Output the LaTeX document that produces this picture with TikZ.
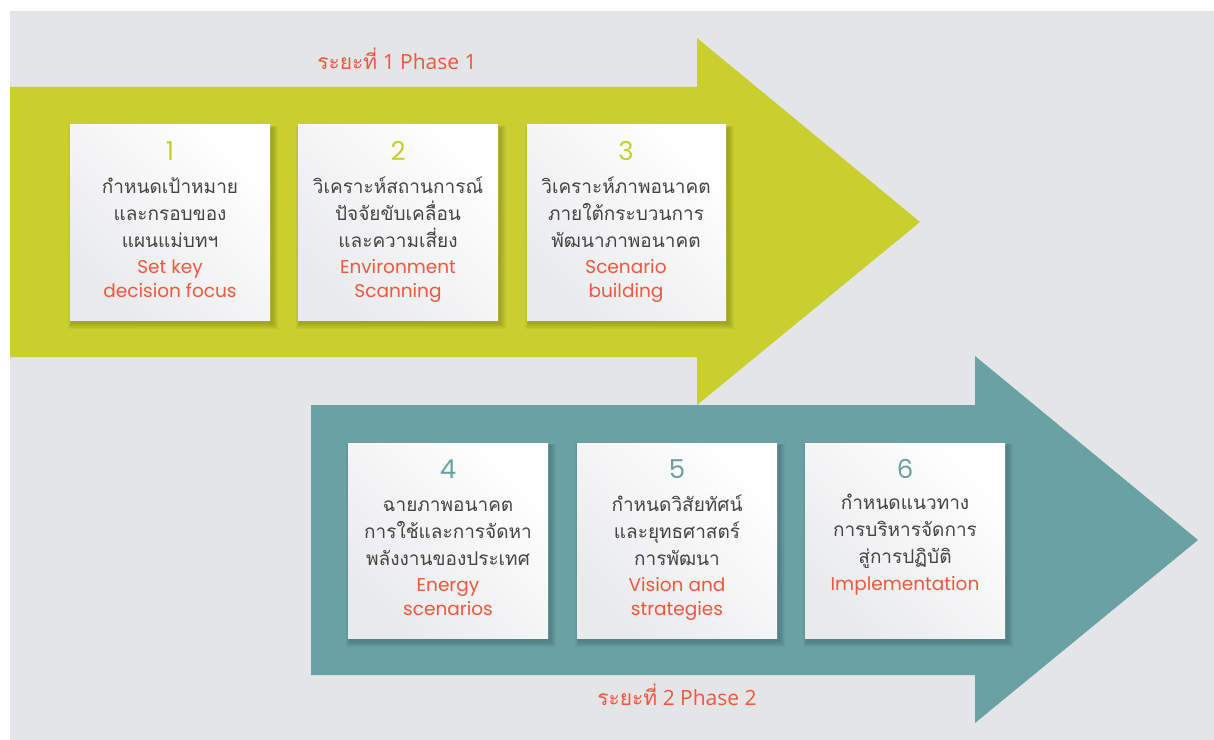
\documentclass[tikz,border=0pt]{standalone}
\usepackage{fontspec}
\setmainfont{Poppins}
\newfontfamily\thaifont[Script=Thai]{Loma}
\newfontfamily\phasefont{Open Sans}
\definecolor{bggrey}{HTML}{E4E5E7}
\definecolor{limec}{HTML}{C9CF2E}
\definecolor{tealc}{HTML}{69A1A4}
\definecolor{redc}{HTML}{F0573B}
\definecolor{textc}{HTML}{444444}
\definecolor{cardgrey}{HTML}{E9EAEC}
\tikzset{
  card/.style={rectangle, inner sep=0pt, minimum width=200bp, minimum height=195bp,
    shading=axis, top color=white, bottom color=cardgrey, shading angle=-45},
  numtop/.style={anchor=base, text=limec, font=\fontsize{26bp}{26bp}\selectfont},
  numbot/.style={anchor=base, text=tealc, font=\fontsize{26bp}{26bp}\selectfont},
  thai/.style={anchor=base, text=textc, inner sep=0pt, font=\thaifont\fontsize{19bp}{19bp}\selectfont},
  eng/.style={anchor=base, text=redc, inner sep=0pt, font=\fontsize{18.5bp}{18.5bp}\selectfont},
  phase/.style={anchor=base, text=redc, inner sep=0pt, font=\phasefont\fontsize{21bp}{21bp}\selectfont}
}
\newcommand\softshadow[4]{%
  \foreach \k in {1,...,6}{%
    \fill[black,opacity=0.03] (#1+2-0.6*\k,#2+3-0.4*\k) rectangle (#3+2+\k,#4+3+\k);}}
\begin{document}
\begin{tikzpicture}[x=1bp,y=-1bp]
\useasboundingbox (0,0) rectangle (1214,740);
\fill[white] (0,0) rectangle (1214,740);
\fill[bggrey] (10,11) rectangle (1214,740);
% arrows
\fill[limec] (10,87) -- (697,87) -- (697,38) -- (920,222) -- (697,405) -- (697,357) -- (10,357) -- cycle;
\fill[tealc] (311,405) -- (975,405) -- (975,356) -- (1198,540) -- (975,723) -- (975,675) -- (311,675) -- cycle;
% phase labels
\node[phase] (ph1) at (397,70) {{\thaifont ระยะที่} 1 Phase 1};
\node[phase] (ph2) at (677,705) {{\thaifont ระยะที่} 2 Phase 2};
% shadows
\softshadow{70}{125}{270}{320}
\softshadow{298}{125}{498}{320}
\softshadow{527}{125}{726}{320}
\softshadow{348}{443}{548}{638}
\softshadow{577}{443}{777}{638}
\softshadow{805}{443}{1005}{638}
% cards
\node[card] (b1) at (170,222.5) {};
\node[card] (b2) at (398,222.5) {};
\node[card, minimum width=199bp] (b3) at (626.5,222.5) {};
\node[card] (b4) at (448,540.5) {};
\node[card] (b5) at (677,540.5) {};
\node[card] (b6) at (905,540.5) {};
% card 1
\node[numtop] (n1) at (170,160) {1};
\node[thai] (t1a) at (170,193) {กำหนดเป้าหมาย};
\node[thai] (t1b) at (170,220) {และกรอบของ};
\node[thai] (t1c) at (170,247) {แผนแม่บทฯ};
\node[eng] (e1a) at (170,273) {Set key};
\node[eng] (e1b) at (170,297) {decision focus};
% card 2
\node[numtop] (n2) at (398,160) {2};
\node[thai] (t2a) at (398,193) {วิเคราะห์สถานการณ์};
\node[thai] (t2b) at (398,220) {ปัจจัยขับเคลื่อน};
\node[thai] (t2c) at (398,247) {และความเสี่ยง};
\node[eng] (e2a) at (398,273) {Environment};
\node[eng] (e2b) at (398,297) {Scanning};
% card 3
\node[numtop] (n3) at (626,160) {3};
\node[thai] (t3a) at (626,193) {วิเคราะห์ภาพอนาคต};
\node[thai] (t3b) at (626,220) {ภายใต้กระบวนการ};
\node[thai] (t3c) at (626,247) {พัฒนาภาพอนาคต};
\node[eng] (e3a) at (626,273) {Scenario};
\node[eng] (e3b) at (626,297) {building};
% card 4
\node[numbot] (n4) at (448,478) {4};
\node[thai] (t4a) at (448,511) {ฉายภาพอนาคต};
\node[thai] (t4b) at (448,538) {การใช้และการจัดหา};
\node[thai] (t4c) at (448,565) {พลังงานของประเทศ};
\node[eng] (e4a) at (448,591) {Energy};
\node[eng] (e4b) at (448,615) {scenarios};
% card 5
\node[numbot] (n5) at (677,478) {5};
\node[thai] (t5a) at (677,511) {กำหนดวิสัยทัศน์};
\node[thai] (t5b) at (677,538) {และยุทธศาสตร์};
\node[thai] (t5c) at (677,565) {การพัฒนา};
\node[eng] (e5a) at (677,591) {Vision and};
\node[eng] (e5b) at (677,615) {strategies};
% card 6
\node[numbot] (n6) at (905,478) {6};
\node[thai] (t6a) at (905,509) {กำหนดแนวทาง};
\node[thai] (t6b) at (905,536) {การบริหารจัดการ};
\node[thai] (t6c) at (905,563) {สู่การปฏิบัติ};
\node[eng] (e6a) at (905,590) {Implementation};
\end{tikzpicture}
\end{document}
